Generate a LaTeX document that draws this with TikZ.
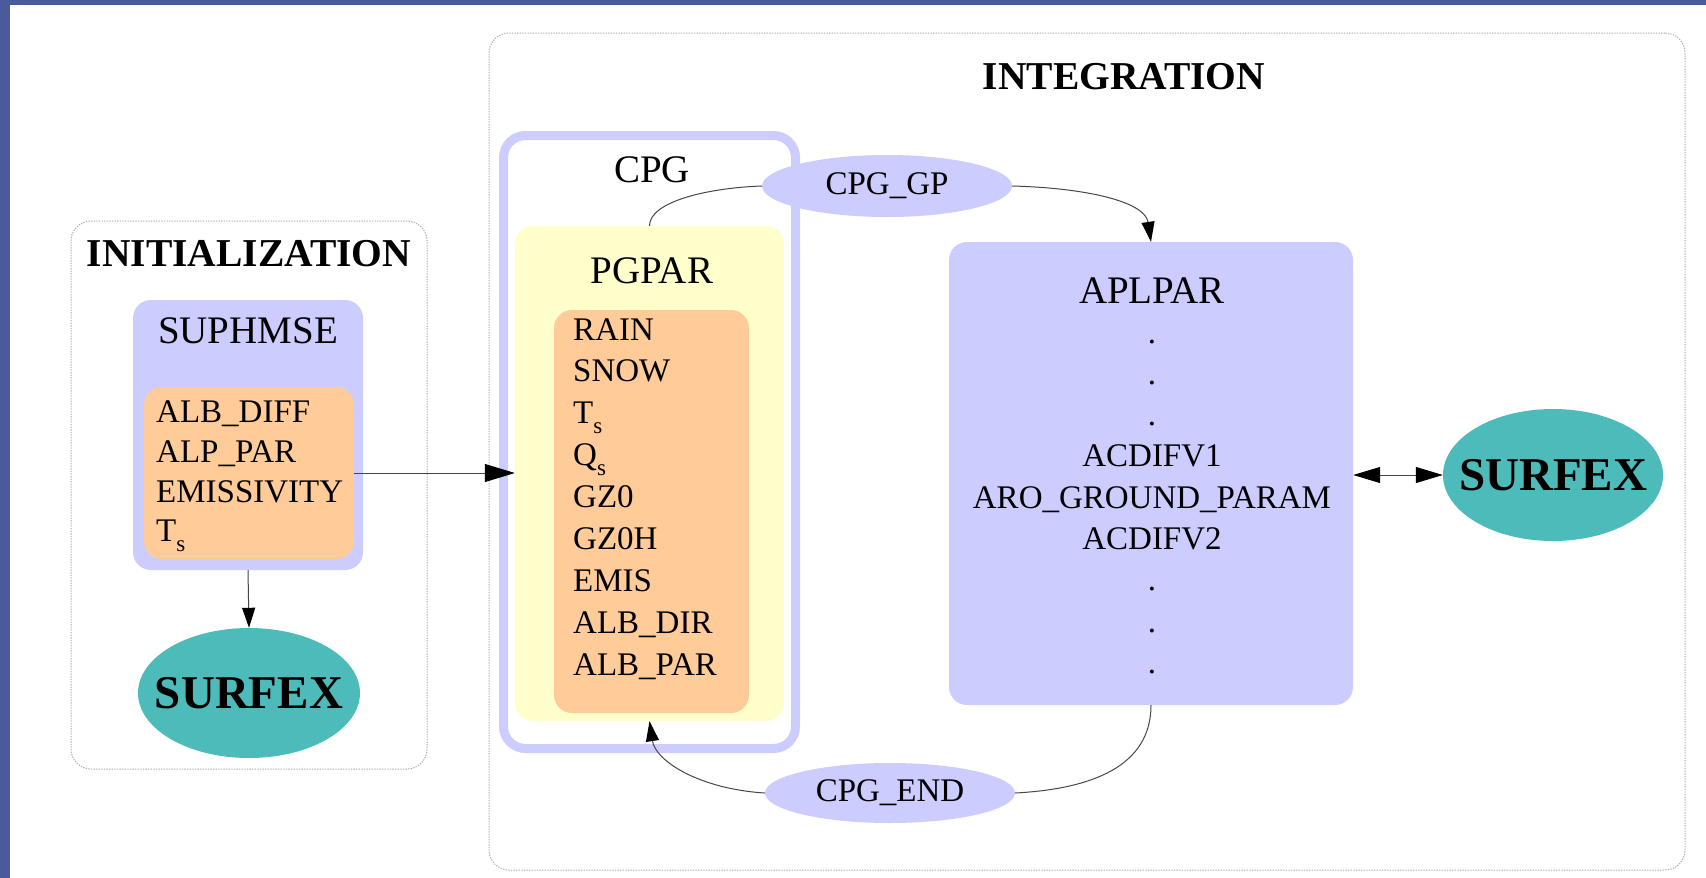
\documentclass[tikz,border=0pt]{standalone}
\usepackage{fontspec}
\setmainfont{Liberation Serif}
\usetikzlibrary{arrows.meta,shapes.geometric}
\definecolor{frameblue}{RGB}{75,90,155}
\definecolor{lav}{RGB}{204,204,255}
\definecolor{pale}{RGB}{255,255,204}
\definecolor{peach}{RGB}{255,204,153}
\definecolor{surf}{RGB}{78,187,187}
\definecolor{edgec}{RGB}{70,70,70}
\newcommand\fitem{\fontsize{33}{40}\selectfont}
\newcommand\flab{\fontsize{39}{46}\selectfont}
\newcommand\ftitle{\fontsize{39.5}{46}\selectfont\bfseries}
\newcommand\fsurf{\fontsize{47}{52}\selectfont\bfseries}
\newcommand\subS[1]{#1\raisebox{-10pt}{\fontsize{23}{23}\selectfont s}}
\tikzset{
  clusterbox/.style={rectangle, draw=gray!65, dash pattern=on 1.3pt off 1.3pt, line width=1pt, rounded corners=20pt, inner sep=0pt},
  filledbox/.style={rectangle, rounded corners=18pt, inner sep=0pt, draw=none},
  oval/.style={ellipse, fill=lav, inner sep=0pt, font=\fitem},
  surfoval/.style={ellipse, fill=surf, inner sep=0pt},
  surftext/.style={inner sep=0pt, font=\fsurf},
  itemtext/.style={anchor=base west, inner sep=0pt, font=\fitem},
  ctext/.style={anchor=base, inner sep=0pt, font=\fitem},
  labtext/.style={anchor=base, inner sep=0pt, font=\flab},
  titletext/.style={anchor=base, inner sep=0pt, font=\ftitle},
  edge/.style={draw=edgec, line width=1pt},
  smalltip/.tip={Triangle[length=20pt,width=13pt,color=black]},
  bigtip/.tip={Triangle[length=30pt,width=18pt,color=black]},
  midtip/.tip={Triangle[length=27pt,width=16pt,color=black]}
}
\begin{document}
\begin{tikzpicture}[x=1pt,y=-1pt]
\fill[white] (0,0) rectangle (1706,878);
\fill[frameblue] (0,0) rectangle (1706,5);
\fill[frameblue] (0,0) rectangle (10,878);
\useasboundingbox (0,0) rectangle (1706,878);

% clusters
\node[clusterbox, minimum width=356pt, minimum height=548pt] (init) at (249,495) {};
\node[clusterbox, minimum width=1196pt, minimum height=837pt] (integ) at (1087,451.5) {};
\node[titletext] (initlab) at (249,266) {INITIALIZATION};
\node[titletext] (integlab) at (1124,89) {INTEGRATION};

% SUPHMSE
\node[filledbox, fill=lav, minimum width=230pt, minimum height=270pt] (suphmse) at (248,435) {};
\node[labtext] (suphmselab) at (248,343) {SUPHMSE};
\node[filledbox, fill=peach, minimum width=210pt, minimum height=172pt] (sitems) at (249,473) {};
\node[itemtext] (s1) at (156,422) {ALB\_DIFF};
\node[itemtext] (s2) at (156,462) {ALP\_PAR};
\node[itemtext] (s3) at (156,502) {EMISSIVITY};
\node[itemtext] (s4) at (156,541) {\subS{T}};
\node[surfoval, minimum width=222pt, minimum height=130pt] (surfL) at (249,693) {};
\node[surftext] (surfLt) at (surfL.center) {SURFEX};

% CPG cluster
\draw[lav, line width=9pt, rounded corners=22pt] (503.5,135.5) rectangle (795.5,748.5);
\node[labtext] (cpglab) at (652,182) {CPG};
\node[filledbox, fill=pale, minimum width=269pt, minimum height=495pt] (pgpar) at (649.5,473.5) {};
\node[labtext] (pgparlab) at (652,283) {PGPAR};
\node[filledbox, fill=peach, minimum width=195pt, minimum height=403pt] (pitems) at (651.5,511.5) {};
\foreach \t [count=\i from 0] in {RAIN,SNOW,\subS{T},\subS{Q},GZ0,GZ0H,EMIS,ALB\_DIR,ALB\_PAR}{
  \node[itemtext] (p\i) at (573,{340+41.9*\i}) {\t};
}

% ellipses
\node[oval, minimum width=250pt, minimum height=62pt] (cpggp) at (887,186) {CPG\_GP};
\node[oval, minimum width=250pt, minimum height=60pt] (cpgend) at (890,793) {CPG\_END};

% APLPAR
\node[filledbox, fill=lav, minimum width=404pt, minimum height=463pt] (aplpar) at (1151,473.5) {};
\node[labtext] (aplparlab) at (1152,303) {APLPAR};
\foreach \t [count=\i from 0] in {.,.,.,ACDIFV1,ARO\_GROUND\_PARAM,ACDIFV2,.,.,.}{
  \node[ctext] (a\i) at (1152,{343+41.3*\i}) {\t};
}
\node[surfoval, minimum width=220pt, minimum height=132pt] (surfR) at (1553,475) {};
\node[surftext] (surfRt) at (surfR.center) {SURFEX};

% edges
\draw[edge, -smalltip] (suphmse.south) -- (surfL.north);
\draw[edge, -bigtip] (sitems.east) -- (sitems.east -| pgpar.west);
\draw[edge] (pgpar.north) .. controls +(0,-24) and +(-55,2) .. (cpggp.west);
\draw[edge, -smalltip] (cpggp.east) .. controls +(75,2) and +(-6,-40) .. (aplpar.north);
\draw[edge] (aplpar.south) .. controls +(0,62) and +(75,-4) .. (cpgend.east);
\draw[edge, -smalltip] (cpgend.west) .. controls +(-65,-4) and +(6,40) .. (pgpar.south);
\draw[edge, midtip-midtip] (surfR.west -| aplpar.east) -- (surfR.west);
\end{tikzpicture}
\end{document}
